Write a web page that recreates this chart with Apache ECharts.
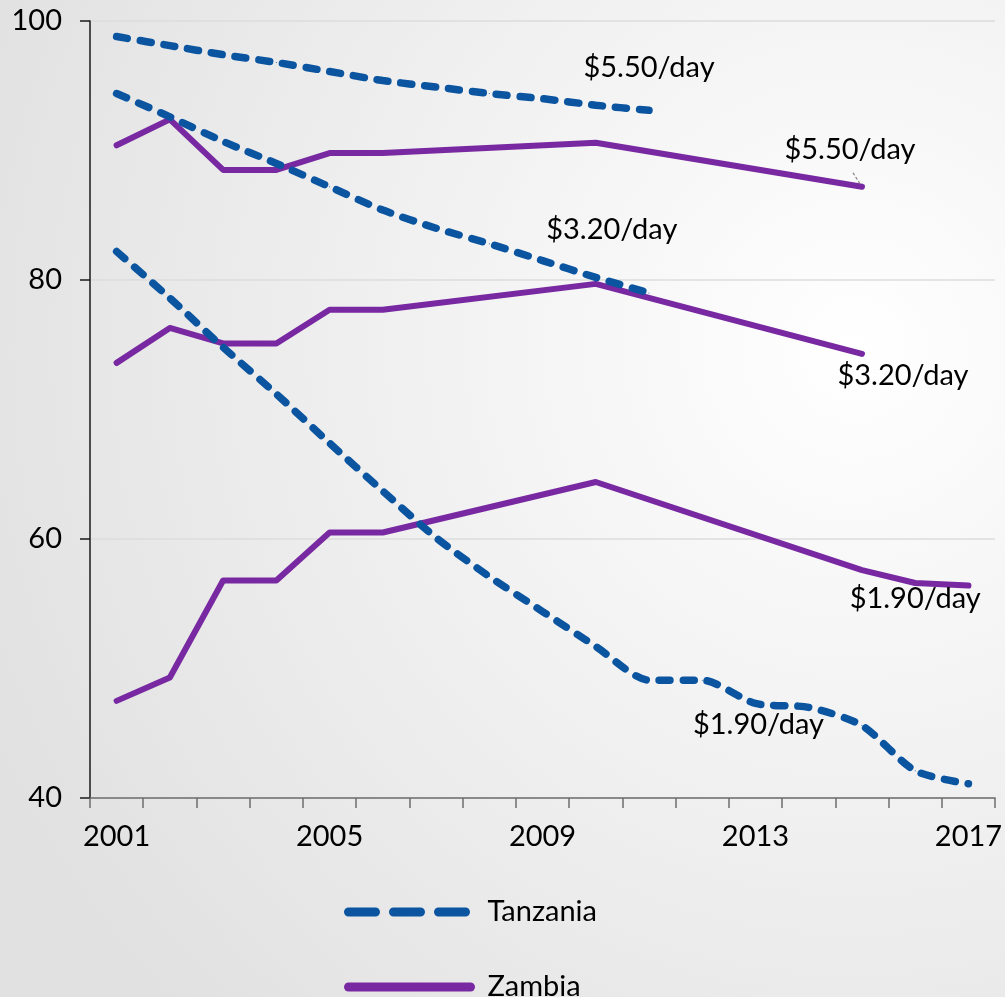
<!DOCTYPE html>
<html>
<head>
<meta charset="utf-8">
<script src="https://cdn.jsdelivr.net/npm/echarts@6/dist/echarts.min.js"></script>
<style>
  html, body { margin: 0; padding: 0; }
  #chart { width: 1005px; height: 997px; }
</style>
</head>
<body>
<div id="chart"></div>
<script>
// Poverty headcount (% of population) by international poverty line
const years = ['2001','2002','2003','2004','2005','2006','2007','2008','2009',
               '2010','2011','2012','2013','2014','2015','2016','2017'];
const yTicks = [40, 60, 80, 100];

// Tanzania
const tza550 = [98.8, 98.1, 97.4, 96.8, 96.1, 95.4, 94.9, 94.4, 94.0, 93.5, 93.1,
                null, null, null, null, null, null];
const tza320 = [94.4, 92.6, 90.7, 89.0, 87.2, 85.4, 84.0, 82.8, 81.5, 80.2, 79.0,
                null, null, null, null, null, null];
const tza190 = [82.2, 78.6, 74.8, 71.2, 67.4, 63.7, 60.1, 57.1, 54.4, 51.7, 49.1,
                49.1, 47.3, 47.0, 45.6, 42.1, 41.1];

// Zambia
const zmb550 = [90.4, 92.4, 88.5, 88.5, 89.8, 89.8, null, null, null, 90.6, null,
                null, null, null, 87.2, null, null];
const zmb320 = [73.6, 76.3, 75.1, 75.1, 77.7, 77.7, null, null, null, 79.7, null,
                null, null, null, 74.3, null, null];
const zmb190 = [47.5, 49.3, 56.8, 56.8, 60.5, 60.5, null, null, null, 64.4, null,
                null, null, null, 57.6, 56.6, 56.4];

const TZ_BLUE = '#0A54A0';
const ZM_PURPLE = '#7829A2';
const FONT = 'Lato';
const FS = 29;

// attach a text label to one point of a series
function withLabel(values, idx, text, labelOpt) {
  return values.map((v, i) => {
    if (i !== idx) return v;
    return {
      value: v,
      label: Object.assign({
        show: true,
        formatter: text,
        color: '#000',
        fontFamily: FONT,
        fontSize: FS
      }, labelOpt)
    };
  });
}

function tzSeries(values) {
  return {
    name: 'Tanzania', type: 'line', data: values,
    smooth: 0.25, connectNulls: false,
    symbol: 'circle', symbolSize: 1, showSymbol: true,
    itemStyle: { color: TZ_BLUE },
    lineStyle: { color: TZ_BLUE, width: 7.5, type: [11, 13], cap: 'round' },
    emphasis: { disabled: true }, z: 3
  };
}
function zmSeries(values) {
  return {
    name: 'Zambia', type: 'line', data: values,
    connectNulls: true,
    symbol: 'circle', symbolSize: 1, showSymbol: true,
    itemStyle: { color: ZM_PURPLE },
    lineStyle: { color: ZM_PURPLE, width: 6, cap: 'round', join: 'round' },
    emphasis: { disabled: true }, z: 2
  };
}

const chart = echarts.init(document.getElementById('chart'), null, { renderer: 'canvas' });

const option = {
  animation: false,
  backgroundColor: {
    type: 'radial', x: 0.85, y: 0.35, r: 0.95,
    colorStops: [
      { offset: 0, color: '#FFFFFF' },
      { offset: 1, color: '#E1E1E1' }
    ]
  },
  grid: { left: 90, right: 7, top: 21, bottom: 199 },
  legend: {
    orient: 'vertical',
    left: 344, top: 897, height: 200,
    padding: 0,
    itemWidth: 122, itemHeight: 30, itemGap: 45,
    itemStyle: { opacity: 0 },
    textStyle: { fontFamily: FONT, fontSize: FS, lineHeight: 30, color: '#000', padding: [0, 0, 0, 12] },
    data: [
      { name: 'Tanzania', lineStyle: { width: 9, type: [27, 18], cap: 'round', color: TZ_BLUE } },
      { name: 'Zambia', lineStyle: { width: 9, type: 'solid', cap: 'round', color: ZM_PURPLE } }
    ]
  },
  xAxis: {
    type: 'category',
    data: years,
    boundaryGap: true,
    axisLine: { lineStyle: { color: '#6E6E6E', width: 1.5 } },
    axisTick: { show: true, interval: 0, length: 10, lineStyle: { color: '#6E6E6E', width: 1.5 } },
    axisLabel: {
      interval: 3, margin: 24,
      color: '#000', fontFamily: FONT, fontSize: FS
    },
    splitLine: { show: false }
  },
  yAxis: {
    type: 'value',
    min: yTicks[0], max: yTicks[yTicks.length - 1], interval: 20,
    axisLine: { show: true, lineStyle: { color: '#1A1A1A', width: 1.5 } },
    axisTick: { show: true, length: 10, lineStyle: { color: '#1A1A1A', width: 1.5 } },
    axisLabel: {
      margin: 28,
      color: '#000', fontFamily: FONT, fontSize: FS
    },
    splitLine: { show: true, lineStyle: { color: '#DCDCDC', width: 1.5 } }
  },
  series: [
    tzSeries(withLabel(tza550, 10, '$5.50/day', { position: 'top', distance: 28 })),
    tzSeries(withLabel(tza320, 9, '$3.20/day', { position: 'top', distance: 33, offset: [16, 0] })),
    tzSeries(withLabel(tza190, 12, '$1.90/day', { position: 'bottom', distance: 6, offset: [3, 0] })),
    zmSeries(withLabel(zmb550, 14, '$5.50/day', { position: 'top', distance: 22, offset: [-12, 0] })),
    zmSeries(withLabel(zmb320, 14, '$3.20/day', { position: 'bottom', distance: 7, offset: [41, 0] })),
    zmSeries(withLabel(zmb190, 15, '$1.90/day', { position: 'bottom', distance: 1 }))
  ]
};

chart.setOption(option);

// short leader from the Zambia $5.50 label down to its end point
const endPt = chart.convertToPixel({ seriesIndex: 3 }, [14, zmb550[14]]);
chart.setOption({
  graphic: [{
    type: 'line',
    shape: { x1: endPt[0] - 9, y1: endPt[1] - 14, x2: endPt[0] - 2, y2: endPt[1] - 3 },
    style: { stroke: '#7F7F7F', lineWidth: 1.2, lineDash: [3, 2] },
    silent: true, z: 10
  }]
});
</script>
</body>
</html>
